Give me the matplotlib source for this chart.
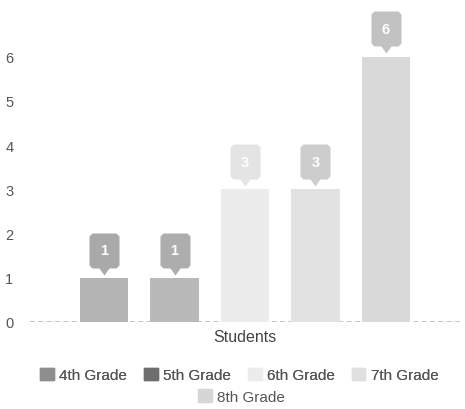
import matplotlib.pyplot as plt
import matplotlib.patches as mpatches
from matplotlib.path import Path

plt.rcParams['font.family'] = ['Liberation Sans', 'DejaVu Sans']

grades = ['4th Grade', '5th Grade', '6th Grade', '7th Grade', '8th Grade']
students = [1, 1, 3, 3, 6]
bar_colors = ['#b4b4b4', '#b9b9b9', '#ececec', '#e2e2e2', '#d9d9d9']
badge_colors = ['#a9a9a9', '#adadad', '#e4e4e4', '#cdcdcd', '#c2c2c2']
yticks = [0, 1, 2, 3, 4, 5, 6]

# shield shaped badge, tip at origin (pixel units)
shield = Path([(0, 0), (5, 7), (12, 7), (15, 10), (15, 39), (12, 42), (-12, 42),
               (-15, 39), (-15, 10), (-12, 7), (-5, 7), (0, 0)], closed=True)

fig = plt.figure(figsize=(4.65, 4.10), dpi=100)
ax = fig.add_axes([30 / 465, 87 / 410, 430 / 465, 292 / 410])

xs = list(range(len(grades)))
ax.bar(xs, students, width=0.69, color=bar_colors, zorder=2)

for x, v, c in zip(xs, students, badge_colors):
    ax.plot(x, v + 0.07, marker=shield, markersize=60.5, color=c, mew=0,
            zorder=3, clip_on=False)
    ax.annotate(str(v), (x, v + 0.07), xytext=(0, 17.6), textcoords='offset points',
                ha='center', va='center', color='white', fontsize=10.5,
                fontweight='bold', zorder=4, annotation_clip=False)

ax.set_xlim(-1.05, 5.05)
ax.set_ylim(0, 6.6)
ax.set_yticks(yticks)
ax.set_xticks([])
ax.axhline(0, color='#bbbbbb', lw=1.2, ls=(0, (3, 2)), zorder=1)
for s in ax.spines.values():
    s.set_visible(False)
ax.tick_params(axis='y', length=0, labelsize=10.5, labelcolor='#555555', pad=12)
ax.set_xlabel('Students', fontsize=11.5, color='#444444', labelpad=5)

handles = [mpatches.Patch(color=c, label=g) for c, g in zip(['#8e8e8e', '#6e6e6e', '#ececec', '#e0e0e0', '#d6d6d6'], grades)]
leg1 = fig.legend(handles=handles[:4], loc='center', bbox_to_anchor=(0.515, 0.083), ncol=4,
                  frameon=False, fontsize=11, handlelength=0.9, handleheight=0.9,
                  handletextpad=0.35, columnspacing=1.1, labelcolor='#555555')
fig.legend(handles=handles[4:], loc='center', bbox_to_anchor=(0.52, 0.03), ncol=1,
           frameon=False, fontsize=11, handlelength=0.9, handleheight=0.9,
           handletextpad=0.35, labelcolor='#555555')
fig.add_artist(leg1)

fig.savefig('out.png', dpi=100)
